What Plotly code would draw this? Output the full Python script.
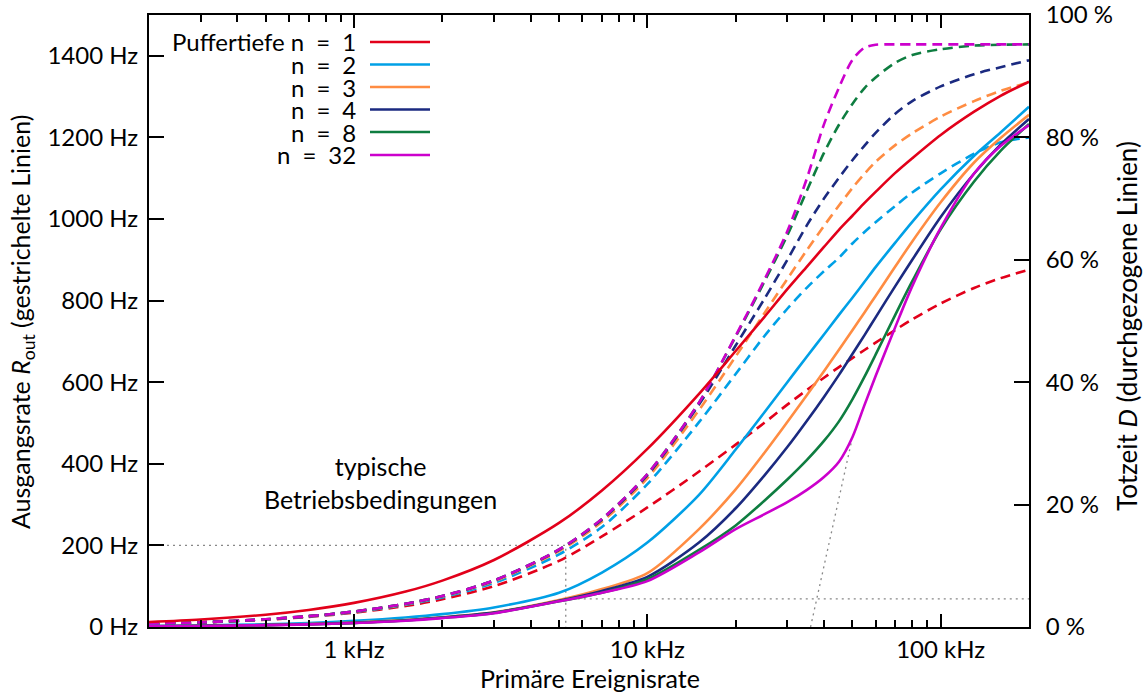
import plotly.graph_objects as go

# ---------------- data ----------------
rate_hz = [200, 300, 500, 700, 1000, 1500, 2000, 3000, 5000, 7000, 10000, 15000, 20000,
           25000, 30000, 35000, 40000, 45000, 50000, 55000, 60000, 70000, 80000,
           100000, 130000, 160000, 200000]

buffer_labels = ["Puffertiefe n\u2002=\u20021", "n\u2002=\u20022", "n\u2002=\u20023",
                 "n\u2002=\u20024", "n\u2002=\u20028", "n\u2002=\u200232"]

# output rate R_out in Hz (dashed lines, left axis)
rout_n1 = [7.1, 10.7, 17.7, 24.7, 35, 51.5, 68, 100, 162, 222, 293, 381, 447,
           500, 545, 581, 611, 637, 659, 679, 697, 728, 754, 793, 831, 855, 876]
rout_n2 = [7.4, 11.1, 18.4, 25.7, 36.6, 54.8, 72.5, 108, 178, 245, 350, 502, 620,
           712, 780, 832, 872, 905, 940, 968, 992, 1032, 1065, 1112, 1160, 1188, 1200]
rout_n3 = [7.5, 11.3, 18.8, 26.3, 37.5, 56, 75, 112, 186, 258, 365, 532, 663,
           768, 853, 924, 983, 1033, 1076, 1111, 1140, 1181, 1210, 1251, 1289, 1314, 1335]
rout_n4 = [7.6, 11.4, 19, 26.6, 38, 57, 76, 114, 189, 263, 372, 545, 690,
           803, 900, 985, 1050, 1101, 1144, 1180, 1211, 1258, 1289, 1325, 1355, 1372, 1389]
rout_n8 = [7.6, 11.4, 19, 26.6, 38, 57, 76, 114, 190, 265, 375, 550, 712,
           845, 960, 1070, 1162, 1231, 1282, 1321, 1347, 1383, 1402, 1416, 1425, 1427, 1428]
rout_n32 = [7.6, 11.4, 19, 26.6, 38, 57, 76, 114, 190, 265, 375, 550, 714,
            850, 970, 1100, 1232, 1322, 1390, 1420, 1427, 1428, 1428, 1428, 1428, 1428, 1428]

# dead time D in % (solid lines, right axis)
dt_n1 = [0.81, 1.22, 2.01, 2.79, 3.94, 5.79, 7.58, 10.95, 17.0, 22.3, 29.1, 38.1, 45.1,
         50.6, 55.2, 58.9, 62.1, 64.9, 67.2, 69.3, 71.1, 74.2, 76.6, 80.4, 84.2, 86.8, 89.1]
dt_n2 = [0.15, 0.25, 0.45, 0.65, 1.0, 1.55, 2.1, 3.2, 5.6, 8.9, 13.8, 21.6, 29.0,
         35.0, 40.0, 44.2, 47.8, 51.0, 53.8, 56.4, 58.8, 62.8, 66.2, 71.5, 77.0, 80.8, 85.0]
dt_n3 = [0.12, 0.18, 0.32, 0.47, 0.72, 1.15, 1.6, 2.4, 4.4, 6.2, 8.8, 16.0, 22.5,
         28.4, 33.5, 37.9, 41.8, 45.3, 48.5, 51.4, 54.1, 58.9, 63.0, 69.4, 75.9, 79.9, 83.7]
dt_n4 = [0.12, 0.18, 0.31, 0.45, 0.68, 1.1, 1.55, 2.35, 4.3, 5.9, 8.2, 13.8, 19.4,
         24.7, 29.4, 33.7, 37.6, 41.2, 44.6, 47.7, 50.6, 55.7, 60.0, 67.0, 74.1, 78.8, 83.0]
dt_n8 = [0.12, 0.17, 0.3, 0.44, 0.66, 1.05, 1.5, 2.3, 4.2, 5.6, 7.8, 12.6, 16.6,
         20.6, 24.1, 27.3, 30.4, 33.6, 37.2, 40.9, 44.5, 51.0, 56.5, 65.0, 72.8, 77.8, 82.2]
dt_n32 = [0.1, 0.16, 0.3, 0.43, 0.65, 1.02, 1.45, 2.25, 4.2, 5.6, 7.5, 12.2, 16.0,
          18.4, 20.4, 22.4, 24.5, 27.0, 31.0, 36.3, 41.0, 49.0, 55.7, 65.2, 74.1, 78.6, 82.0]

colors = ["#e2001a", "#00a0e6", "#ff8c42", "#1b2a80", "#0e7d40", "#cc00cc"]

# reference (typical operating point) guide lines
typ_rate = [200, 5270, 5270]
typ_rout = [200, 200, 0]
typ_dt_rate = [5270, 200000]
typ_dt = [4.6, 4.6]
slope_rate = [36000, 49800]
slope_dt = [0, 30.6]

x_major = [1000, 10000, 100000]
x_major_text = ["1 kHz", "10 kHz", "100 kHz"]
x_minor = [m * d for d in (100, 1000, 10000, 100000) for m in range(2, 10)]
y_ticks = [0, 200, 400, 600, 800, 1000, 1200, 1400]
y2_ticks = [0, 20, 40, 60, 80, 100]

FONT = "Lato"
fig = go.Figure()

routs = [rout_n1, rout_n2, rout_n3, rout_n4, rout_n8, rout_n32]
dts = [dt_n1, dt_n2, dt_n3, dt_n4, dt_n8, dt_n32]

# guide lines
dot = dict(color="#888888", width=1.3, dash="2px,4px")
fig.add_trace(go.Scatter(x=typ_rate, y=typ_rout, mode="lines", line=dot, yaxis="y", showlegend=False))
fig.add_trace(go.Scatter(x=typ_dt_rate, y=typ_dt, mode="lines", line=dot, yaxis="y2", showlegend=False))
fig.add_trace(go.Scatter(x=slope_rate, y=slope_dt, mode="lines", line=dot, yaxis="y2", showlegend=False))

for c, r in zip(colors, routs):
    fig.add_trace(go.Scatter(x=rate_hz, y=r, mode="lines", yaxis="y", showlegend=False,
                             line=dict(color=c, width=2.6, dash="10px,6px", shape="spline", smoothing=0.8)))
for c, d in zip(colors, dts):
    fig.add_trace(go.Scatter(x=rate_hz, y=d, mode="lines", yaxis="y2", showlegend=False,
                             line=dict(color=c, width=2.6, shape="spline", smoothing=0.8)))

# plot-area geometry helpers (pixels -> paper)
L, R, T, B = 149, 1029, 15, 627
def px(x):
    return (x - L) / (R - L)
def py(y):
    return (B - y) / (B - T)

legfont = dict(family=FONT, size=24, color="black")
txtfont = dict(family=FONT, size=25, color="black")
titlefont = dict(family=FONT, size=25, color="black")
annotations = []
shapes = []
row_y = [42, 64.5, 87, 109.5, 132, 155]
for lab, c, yy in zip(buffer_labels, colors, row_y):
    annotations.append(dict(x=px(358), y=py(yy), xref="paper", yref="paper", text=lab,
                            showarrow=False, xanchor="right", yanchor="middle", font=legfont))
    shapes.append(dict(type="line", xref="paper", yref="paper", x0=px(370), x1=px(430),
                       y0=py(yy), y1=py(yy), line=dict(color=c, width=2.6)))

annotations.append(dict(x=px(380), y=py(483), xref="paper", yref="paper",
                        text="typische<br>Betriebsbedingungen", showarrow=False,
                        xanchor="center", yanchor="middle", align="center", font=txtfont))
annotations.append(dict(x=px(22), y=py(322), xref="paper", yref="paper", textangle=-90,
                        text="Ausgangsrate <i>R</i><sub>out</sub> (gestrichelte Linien)",
                        showarrow=False, xanchor="center", yanchor="middle", font=titlefont))
annotations.append(dict(x=px(1127), y=py(326), xref="paper", yref="paper", textangle=-90,
                        text="Totzeit <i>D</i> (durchgezogene Linien)",
                        showarrow=False, xanchor="center", yanchor="middle",
                        font=dict(family=FONT, size=26, color="black")))
annotations.append(dict(x=px(590), y=py(678), xref="paper", yref="paper",
                        text="Primäre Ereignisrate", showarrow=False,
                        xanchor="center", yanchor="middle", font=titlefont))

tickfont = dict(family=FONT, size=24, color="black")
fig.update_layout(
    width=1145, height=693,
    margin=dict(l=L, r=1145 - R, t=T, b=693 - B, autoexpand=False),
    paper_bgcolor="white", plot_bgcolor="white",
    showlegend=False,
    annotations=annotations, shapes=shapes,
    xaxis=dict(type="log", range=[2.30103, 5.30103], tickvals=x_major, ticktext=x_major_text,
               ticks="inside", ticklen=13, tickwidth=1.5, tickcolor="black",
               minor=dict(tickvals=x_minor, ticks="inside", ticklen=7, tickwidth=1.5,
                          tickcolor="black", showgrid=False),
               showline=True, linewidth=2, linecolor="black", mirror="ticks",
               showgrid=False, zeroline=False, tickfont=tickfont, ticklabelstandoff=0,
               automargin=False, ticklabeloverflow="allow"),
    yaxis=dict(range=[0, 1500], tickvals=y_ticks, ticktext=[f"{v} Hz" for v in y_ticks],
               ticks="inside", ticklen=15, tickwidth=1.5, tickcolor="black",
               showline=True, linewidth=2, linecolor="black", mirror=False,
               showgrid=False, zeroline=False, tickfont=tickfont, ticklabelstandoff=4,
               automargin=False, ticklabeloverflow="allow"),
    yaxis2=dict(range=[0, 100], overlaying="y", side="right", tickvals=y2_ticks,
                ticktext=[f"{v} %" for v in y2_ticks],
                ticks="inside", ticklen=15, tickwidth=1.5, tickcolor="black",
                showline=True, linewidth=2, linecolor="black",
                showgrid=False, zeroline=False, tickfont=tickfont, ticklabelstandoff=10,
                automargin=False, ticklabeloverflow="allow"),
)

fig.write_html("out.html", config={"displayModeBar": False},
               post_script="document.body.style.margin='0px';")
